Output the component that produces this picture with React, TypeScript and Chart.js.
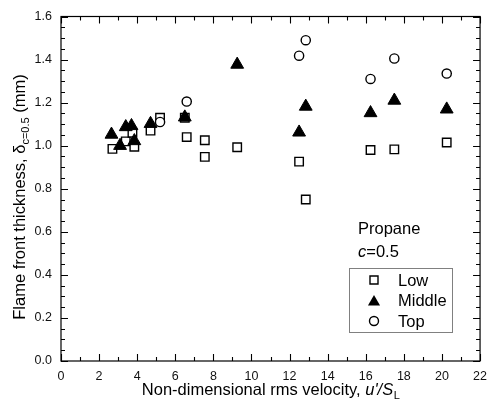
import React, { useEffect, useRef } from "react";
import { Chart, registerables } from "chart.js";

Chart.register(...registerables);

// ---- data ----
const lowX = [2.7, 3.4, 3.75, 3.85, 4.7, 5.2, 6.5, 6.6, 7.55, 7.55, 9.25, 12.5, 12.85, 16.25, 17.5, 20.25];
const lowY = [0.985, 1.02, 1.06, 0.995, 1.07, 1.13, 1.13, 1.04, 1.025, 0.948, 0.993, 0.926, 0.75, 0.98, 0.983, 1.015];

const midX = [2.65, 3.1, 3.4, 3.7, 3.85, 4.7, 6.5, 9.25, 12.5, 12.85, 16.25, 17.5, 20.25];
const midY = [1.052, 1.0, 1.087, 1.092, 1.022, 1.102, 1.132, 1.377, 1.062, 1.182, 1.152, 1.21, 1.169];

const topX = [5.2, 6.6, 12.5, 12.85, 16.25, 17.5, 20.25];
const topY = [1.11, 1.205, 1.418, 1.49, 1.31, 1.405, 1.335];

const seriesNames = ["Low", "Middle", "Top"];
const xTickValues = [0, 2, 4, 6, 8, 10, 12, 14, 16, 18, 20, 22];
const yTickValues = [0, 0.2, 0.4, 0.6, 0.8, 1.0, 1.2, 1.4, 1.6];
const annotationLines = ["Propane", "c=0.5"];

const FONT = "'Liberation Sans', Arial, Helvetica, sans-serif";
const BIG = 16.5;
const SUB = 11;

const toPoints = (xs: number[], ys: number[]) => xs.map((x, i) => ({ x, y: ys[i] }));

const framePlugin = {
  id: "framePlugin",
  afterDraw(chart: any) {
    const { ctx, chartArea: a, scales } = chart;
    const xs = scales.x;
    const ys = scales.y;
    ctx.save();
    ctx.strokeStyle = "#000";
    ctx.lineWidth = 1.2;
    ctx.strokeRect(a.left, a.top, a.right - a.left, a.bottom - a.top);

    ctx.lineWidth = 1.1;
    ctx.beginPath();
    const xmin = xTickValues[0];
    const xmax = xTickValues[xTickValues.length - 1];
    for (let v = xmin; v <= xmax; v += 1) {
      const major = v % 2 === 0;
      const len = major ? 7 : 4;
      const px = Math.round(xs.getPixelForValue(v)) + 0.5;
      ctx.moveTo(px, a.bottom);
      ctx.lineTo(px, a.bottom - len);
      ctx.moveTo(px, a.top);
      ctx.lineTo(px, a.top + len);
    }
    for (let i = 0; i <= 32; i++) {
      const v = i * 0.05;
      const major = i % 4 === 0;
      const len = major ? 7 : 4;
      const py = Math.round(ys.getPixelForValue(v)) + 0.5;
      ctx.moveTo(a.left, py);
      ctx.lineTo(a.left + len, py);
      ctx.moveTo(a.right, py);
      ctx.lineTo(a.right - len, py);
    }
    ctx.stroke();

    ctx.fillStyle = "#000";
    ctx.textBaseline = "alphabetic";
    ctx.textAlign = "left";

    // ---- y axis title ----
    {
      const main = "Flame front thickness, \u03b4";
      const sub = "c=0.5";
      const tail = " (mm)";
      ctx.font = `${BIG}px ${FONT}`;
      const w1 = ctx.measureText(main).width;
      const w3 = ctx.measureText(tail).width;
      ctx.font = `${SUB}px ${FONT}`;
      const w2 = ctx.measureText(sub).width;
      const total = w1 + w2 + w3;
      ctx.save();
      ctx.translate(25, 197);
      ctx.rotate(-Math.PI / 2);
      let x = -total / 2;
      ctx.font = `${BIG}px ${FONT}`;
      ctx.fillText(main, x, 0);
      x += w1;
      ctx.font = `${SUB}px ${FONT}`;
      ctx.fillText(sub, x, 4);
      x += w2;
      ctx.font = `${BIG}px ${FONT}`;
      ctx.fillText(tail, x, 0);
      ctx.restore();
    }

    // ---- x axis title ----
    {
      const main = "Non-dimensional rms velocity, ";
      const ital = "u'/S";
      const sub = "L";
      ctx.font = `${BIG}px ${FONT}`;
      const w1 = ctx.measureText(main).width;
      ctx.font = `italic ${BIG}px ${FONT}`;
      const w2 = ctx.measureText(ital).width;
      ctx.font = `${SUB}px ${FONT}`;
      const w3 = ctx.measureText(sub).width;
      const total = w1 + w2 + w3;
      const cx = (a.left + a.right) / 2;
      let x = cx - total / 2;
      const base = 395;
      ctx.font = `${BIG}px ${FONT}`;
      ctx.fillText(main, x, base);
      x += w1;
      ctx.font = `italic ${BIG}px ${FONT}`;
      ctx.fillText(ital, x, base);
      x += w2 + 0.5;
      ctx.font = `${SUB}px ${FONT}`;
      ctx.fillText(sub, x, base + 4);
    }

    // ---- annotation ----
    {
      ctx.font = `${BIG}px ${FONT}`;
      ctx.fillText(annotationLines[0], 358, 234);
      const t = annotationLines[1];
      ctx.font = `italic ${BIG}px ${FONT}`;
      ctx.fillText(t.charAt(0), 358, 257);
      const wc = ctx.measureText(t.charAt(0)).width;
      ctx.font = `${BIG}px ${FONT}`;
      ctx.fillText(t.slice(1), 358 + wc, 257);
    }

    // ---- legend ----
    {
      ctx.strokeStyle = "#808080";
      ctx.lineWidth = 1;
      ctx.strokeRect(349.5, 268.5, 103, 64);
      const rowsY = [280, 300.5, 321];
      const mx = 374;
      ctx.strokeStyle = "#000";
      ctx.lineWidth = 1.4;
      ctx.fillStyle = "#fff";
      ctx.beginPath();
      ctx.rect(mx - 4, rowsY[0] - 4, 8, 8);
      ctx.fill();
      ctx.stroke();
      ctx.fillStyle = "#000";
      ctx.beginPath();
      const r = 7;
      const cy = rowsY[1] + 1.5;
      ctx.moveTo(mx, cy - r);
      ctx.lineTo(mx + r * 0.866, cy + r * 0.5);
      ctx.lineTo(mx - r * 0.866, cy + r * 0.5);
      ctx.closePath();
      ctx.fill();
      ctx.fillStyle = "#fff";
      ctx.beginPath();
      ctx.arc(mx, rowsY[2], 4.5, 0, Math.PI * 2);
      ctx.fill();
      ctx.stroke();

      ctx.fillStyle = "#000";
      ctx.font = `${BIG}px ${FONT}`;
      ctx.textBaseline = "middle";
      seriesNames.forEach((n, i) => ctx.fillText(n, 398, rowsY[i] + 1));
    }
    ctx.restore();
  },
};

export default function App() {
  const canvasRef = useRef<HTMLCanvasElement | null>(null);

  useEffect(() => {
    if (!canvasRef.current) return;
    const chart = new Chart(canvasRef.current, {
      type: "scatter",
      data: {
        datasets: [
          {
            label: seriesNames[0],
            data: toPoints(lowX, lowY),
            pointStyle: "rect",
            pointRadius: 6,
            backgroundColor: "#fff",
            borderColor: "#000",
            borderWidth: 1.4,
            order: 3,
          },
          {
            label: seriesNames[1],
            data: toPoints(midX, midY),
            pointStyle: "triangle",
            pointRadius: 7.4,
            backgroundColor: "#000",
            borderColor: "#000",
            borderWidth: 1,
            order: 2,
          },
          {
            label: seriesNames[2],
            data: toPoints(topX, topY),
            pointStyle: "circle",
            pointRadius: 4.6,
            backgroundColor: "#fff",
            borderColor: "#000",
            borderWidth: 1.4,
            order: 1,
          },
        ],
      },
      options: {
        animation: false,
        responsive: true,
        maintainAspectRatio: false,
        layout: { padding: { top: 14, right: 6, left: 0, bottom: 0 } },
        plugins: {
          legend: { display: false },
          tooltip: { enabled: false },
          title: { display: false },
        },
        scales: {
          x: {
            type: "linear",
            min: xTickValues[0],
            max: xTickValues[xTickValues.length - 1],
            afterBuildTicks: (s: any) => {
              s.ticks = xTickValues.map((v) => ({ value: v }));
            },
            afterFit: (s: any) => {
              s.height = 50;
            },
            ticks: {
              padding: 8,
              color: "#111",
              font: { family: FONT, size: 12.5 },
              maxRotation: 0,
              autoSkip: false,
              callback: (v: any) => String(v),
            },
            grid: { display: false, drawTicks: false },
            border: { display: false },
          },
          y: {
            type: "linear",
            min: yTickValues[0],
            max: yTickValues[yTickValues.length - 1],
            afterBuildTicks: (s: any) => {
              s.ticks = yTickValues.map((v) => ({ value: v }));
            },
            afterFit: (s: any) => {
              s.width = 61;
            },
            ticks: {
              padding: 9,
              color: "#111",
              font: { family: FONT, size: 12.5 },
              autoSkip: false,
              callback: (v: any) => Number(v).toFixed(1),
            },
            grid: { display: false, drawTicks: false },
            border: { display: false },
          },
        },
      },
      plugins: [framePlugin],
    });
    return () => chart.destroy();
  }, []);

  return (
    <div style={{ position: "absolute", left: 0, top: 0, width: 495, height: 411, background: "#fff" }}>
      <canvas ref={canvasRef} />
    </div>
  );
}
